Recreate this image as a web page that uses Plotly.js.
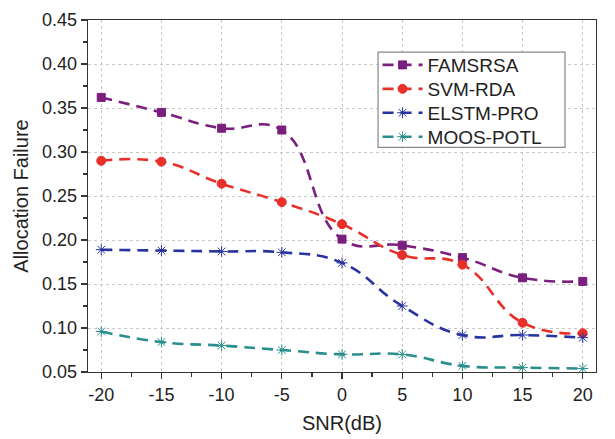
<!DOCTYPE html>
<html><head><meta charset="utf-8">
<script src="https://cdn.plot.ly/plotly-3.0.1.min.js"></script>
<style>html,body{margin:0;padding:0;background:#fff}#chart{width:615px;height:439px}</style>
</head><body><div id="chart"></div>
<script>
const snr = [-20, -15, -10, -5, 0, 5, 10, 15, 20];
const famsrsa = [0.362, 0.345, 0.327, 0.325, 0.201, 0.194, 0.180, 0.157, 0.153];
const svmRda = [0.290, 0.289, 0.264, 0.243, 0.218, 0.183, 0.172, 0.106, 0.094];
const elstmPro = [0.189, 0.188, 0.187, 0.186, 0.174, 0.125, 0.092, 0.092, 0.089];
const moosPotl = [0.096, 0.084, 0.080, 0.075, 0.070, 0.070, 0.057, 0.055, 0.054];
const seriesNames = ['FAMSRSA', 'SVM-RDA', 'ELSTM-PRO', 'MOOS-POTL'];
const yTicks = [0.05, 0.10, 0.15, 0.20, 0.25, 0.30, 0.35, 0.40, 0.45];

const FONT = 'Liberation Sans, Arial, sans-serif';
const legendIds = ['legend', 'legend2', 'legend3', 'legend4'];
function tr(i, y, color, symbol, size) {
  return {
    x: snr, y: y, name: seriesNames[i], type: 'scatter', mode: 'lines+markers',
    legend: legendIds[i],
    line: {color: color, width: 2.6, dash: '11px,7px', shape: 'spline', smoothing: 1.3},
    marker: {color: color, symbol: symbol, size: size, line: {color: color, width: 1}}
  };
}
const data = [
  tr(0, famsrsa, '#7a1f7e', 'square', 8),
  tr(1, svmRda, '#e8302a', 'circle', 9),
  tr(2, elstmPro, '#27339f', 'asterisk-open', 9),
  tr(3, moosPotl, '#2a8f8c', 'asterisk-open', 9)
];
const axisCommon = {
  showline: true, mirror: true, linecolor: '#333', linewidth: 1.3,
  ticks: 'outside', ticklen: 6, tickwidth: 1.2, tickcolor: '#333',
  showgrid: true, gridcolor: '#c8c8c8', griddash: 'dot', gridwidth: 1,
  zeroline: false,
  tickfont: {family: FONT, size: 18, color: '#222'}
};
function leg(yc) {
  return {
    x: 0.57, y: yc, xanchor: 'left', yanchor: 'middle',
    bgcolor: 'rgba(0,0,0,0)', borderwidth: 0,
    font: {family: FONT, size: 19, color: '#222'}, itemwidth: 40
  };
}
const layout = {
  width: 615, height: 439,
  margin: {l: 88, r: 19, t: 20, b: 67},
  paper_bgcolor: '#fff', plot_bgcolor: '#fff',
  showlegend: true,
  legend: leg(0.872), legend2: leg(0.804), legend3: leg(0.736), legend4: leg(0.668),
  shapes: [{
    type: 'rect', xref: 'x domain', yref: 'y domain',
    x0: 0.571, x1: 0.939, y0: 0.638, y1: 0.909,
    line: {color: '#888', width: 1.2}, fillcolor: '#fff', layer: 'above'
  }],
  xaxis: Object.assign({}, axisCommon, {
    range: [-21.1, 21.1], tickvals: snr, ticktext: snr.map(String),
    minor: {ticks: 'outside', ticklen: 4, dtick: 2.5, tick0: -20, tickcolor: '#333', showgrid: false},
    title: {text: 'SNR(dB)', font: {family: FONT, size: 20, color: '#222'}, standoff: 12}
  }),
  yaxis: Object.assign({}, axisCommon, {
    range: [0.05, 0.45], tickvals: yTicks, ticktext: yTicks.map(v => v.toFixed(2)),
    minor: {ticks: 'outside', ticklen: 4, dtick: 0.025, tick0: 0.05, tickcolor: '#333', showgrid: false},
    title: {text: 'Allocation Failure', font: {family: FONT, size: 20, color: '#222'}, standoff: 8}
  })
};
Plotly.newPlot('chart', data, layout, {displayModeBar: false, staticPlot: true});
</script></body></html>
